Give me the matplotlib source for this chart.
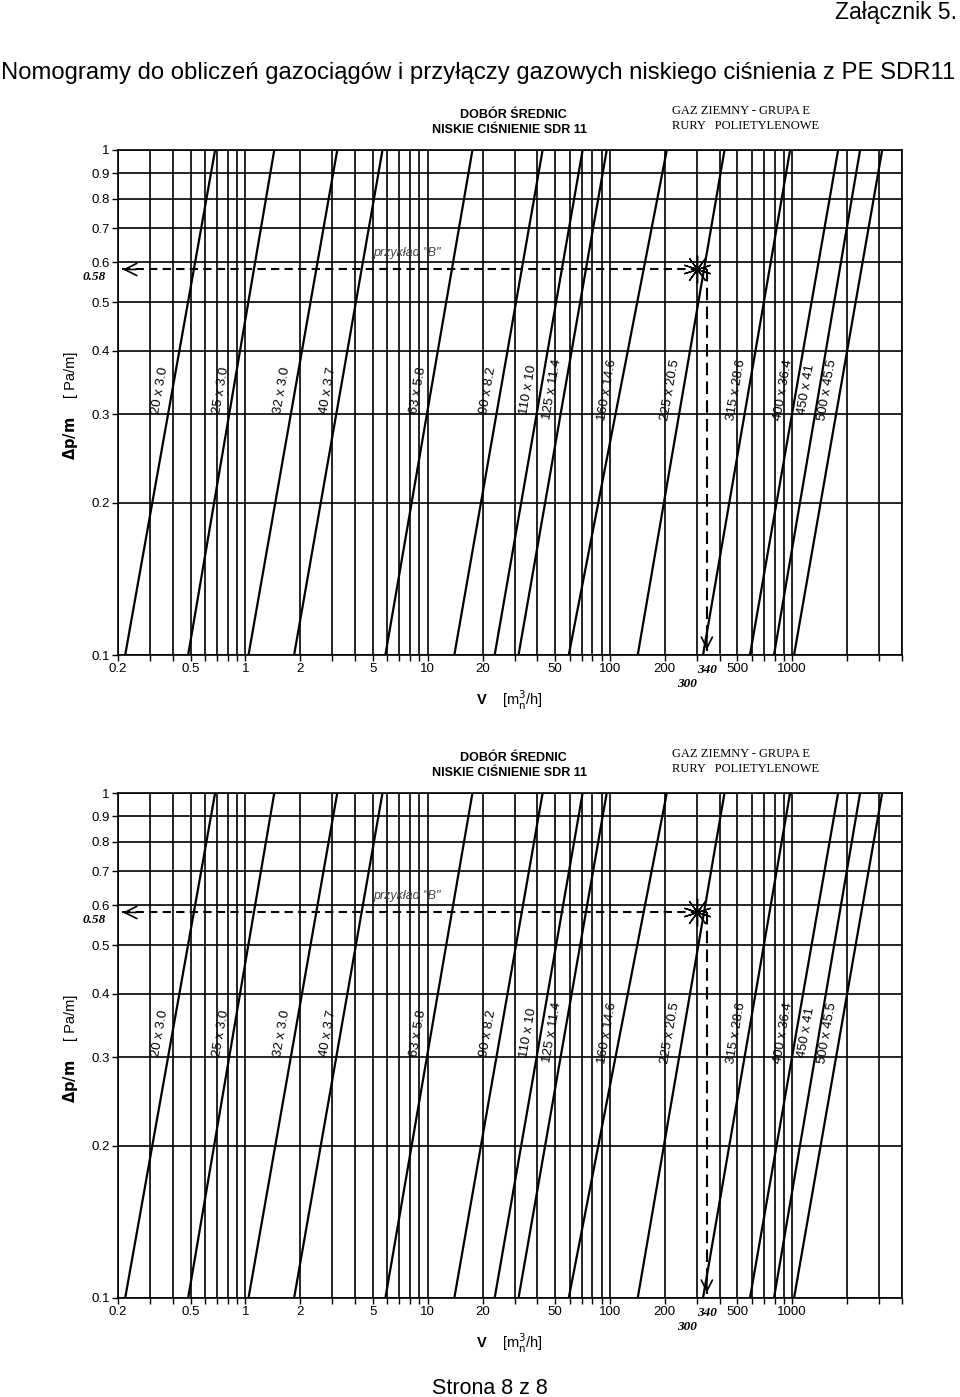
import numpy as np
import matplotlib.pyplot as plt
from matplotlib.ticker import NullLocator

plt.rcParams['font.family'] = ['Liberation Sans', 'DejaVu Sans']

# przewody PE SDR11 - odczyt z nomogramu
pipe_labels = ["20 x 3.0", "25 x 3.0", "32 x 3.0", "40 x 3.7", "63 x 5.8",
               "90 x 8.2", "110 x 10", "125 x 11.4", "160 x 14.6",
               "225 x 20.5", "315 x 28.6", "400 x 36.4", "450 x 41",
               "500 x 45.5"]
# przeplyw [m3n/h] przy dp/m = 0.1 Pa/m oraz 1 Pa/m
flow_at_01 = [0.219, 0.485, 1.04, 1.85, 5.86, 14.0, 23.3, 31.5, 59.4,
              142, 324, 586, 794, 1023]
flow_at_1 = [0.682, 1.44, 3.19, 5.65, 17.6, 42.7, 70.8, 96.0, 205,
             425, 973, 1785, 2356, 3114]

x_ticks = [0.2, 0.5, 1, 2, 5, 10, 20, 50, 100, 200, 500, 1000]
x_tick_labels = ["0.2", "0.5", "1", "2", "5", "10", "20", "50", "100",
                 "200", "500", "1000"]
y_ticks = [0.1, 0.2, 0.3, 0.4, 0.5, 0.6, 0.7, 0.8, 0.9, 1.0]
y_tick_labels = ["0.1", "0.2", "0.3", "0.4", "0.5", "0.6", "0.7", "0.8",
                 "0.9", "1"]

# przyklad "B"
example_dp = 0.58
example_star = 300
example_flow = 340

LABEL_DP = 0.335
W, H = 960, 1397


def fx(px):
    return px / W


def fy(py):
    return 1 - py / H


def draw_nomogram(fig, top):
    # os w pikselach: 118..902 poziomo, top..top+505 pionowo
    ax = fig.add_axes([fx(118), fy(top + 505), 784 / W, 505 / H])
    ax.set_xscale("log")
    ax.set_yscale("log")
    ax.set_xlim(0.2, 4000)
    ax.set_ylim(0.1, 1)

    x_grid = [k * d for d in (0.1, 1, 10, 100, 1000) for k in range(1, 10)
              if 0.2 <= k * d <= 4000]
    for v in x_grid:
        ax.axvline(v, color="black", lw=1.2, zorder=1)
    for p in y_ticks:
        ax.axhline(p, color="black", lw=1.2, zorder=1)

    ax.set_xticks(x_grid)
    ax.set_xticklabels([x_tick_labels[x_ticks.index(v)] if v in x_ticks else ""
                        for v in x_grid])
    ax.set_yticks(y_ticks)
    ax.set_yticklabels(y_tick_labels)
    ax.xaxis.set_minor_locator(NullLocator())
    ax.yaxis.set_minor_locator(NullLocator())
    ax.tick_params(direction="out", length=4, width=1, labelsize=9.5, pad=2,
                   colors="black")
    for s in ax.spines.values():
        s.set_linewidth(1.2)

    # linie przewodow
    for lab, q0, q1 in zip(pipe_labels, flow_at_01, flow_at_1):
        ax.plot([q0, q1], [0.1, 1.0], color="black", lw=1.6, zorder=3)
        ql = q0 * (q1 / q0) ** np.log10(LABEL_DP / 0.1)
        ax.annotate(lab, xy=(ql, LABEL_DP), xytext=(-9, 0),
                    textcoords="offset points", rotation=80, ha="center",
                    va="center", fontsize=9.5, zorder=4)

    # przyklad "B"
    ax.plot([0.21, example_flow], [example_dp, example_dp], color="black",
            lw=1.5, ls=(0, (4, 2.5)), zorder=5)
    ax.plot([example_flow, example_flow], [example_dp, 0.102], color="black",
            lw=1.5, ls=(0, (6, 3)), zorder=5)
    ax.annotate("", xy=(0.205, example_dp), xytext=(0.26, example_dp),
                arrowprops=dict(arrowstyle="->", lw=1.2, mutation_scale=22,
                                color="black"), zorder=6)
    ax.annotate("", xy=(example_flow, 0.101), xytext=(example_flow, 0.115),
                arrowprops=dict(arrowstyle="->", lw=1.2, mutation_scale=20,
                                color="black"), zorder=6)
    ax.plot([example_star], [example_dp], marker=(10, 2, 0), ms=20,
            color="black", mew=1.0, zorder=6)
    ax.text(5.0, 0.625, 'przykład "B"', fontsize=9, style="italic",
            color="#444444", ha="left", va="center", zorder=4)

    ax.annotate("0.58", xy=(0.2, example_dp), xytext=(-9, -5.5),
                textcoords="offset points", ha="right", va="center",
                fontsize=9.5, fontweight="bold", style="italic",
                family="Liberation Serif", annotation_clip=False)
    ax.annotate("340", xy=(example_flow, 0.1), xytext=(0, -11),
                textcoords="offset points", ha="center", va="center",
                fontsize=9.5, fontweight="bold", style="italic",
                family="Liberation Serif", annotation_clip=False)
    ax.annotate("300", xy=(example_star, 0.1), xytext=(-7, -21),
                textcoords="offset points", ha="center", va="center",
                fontsize=9.5, fontweight="bold", style="italic",
                family="Liberation Serif", annotation_clip=False)

    # opisy osi
    fig.text(fx(71), fy(top + 288), r"$\mathbf{\Delta p/m}$", rotation=90,
             ha="center", va="center", fontsize=10.5)
    fig.text(fx(71), fy(top + 225), "[ Pa/m]", rotation=90,
             ha="center", va="center", fontsize=10.5)
    fig.text(fx(482), fy(top + 550), "V", ha="center", va="center",
             fontsize=10.5, fontweight="bold")
    fig.text(fx(502), fy(top + 550), r"[m$^{3}_{\mathrm{n}}$/h]", ha="left",
             va="center", fontsize=10.5)

    # naglowek nomogramu
    fig.text(fx(513), fy(top - 35), "DOBÓR ŚREDNIC", ha="center",
             va="center", fontsize=9, fontweight="bold")
    fig.text(fx(510), fy(top - 20), "NISKIE CIŚNIENIE SDR 11", ha="center",
             va="center", fontsize=9, fontweight="bold")
    fig.text(fx(672), fy(top - 39), "GAZ ZIEMNY - GRUPA E", ha="left",
             va="center", fontsize=9, family="Liberation Serif")
    fig.text(fx(672), fy(top - 24), "RURY   POLIETYLENOWE", ha="left",
             va="center", fontsize=9, family="Liberation Serif")
    return ax


fig = plt.figure(figsize=(W / 100, H / 100), dpi=100)

fig.text(fx(957), fy(12), "Załącznik 5.", ha="right", va="center",
         fontsize=16.5)
fig.text(fx(478), fy(73),
         "Nomogramy do obliczeń gazociągów i przyłączy gazowych niskiego "
         "ciśnienia z PE SDR11", ha="center", va="center", fontsize=17.2)

draw_nomogram(fig, 150)
draw_nomogram(fig, 793)

fig.text(fx(490), fy(1388), "Strona 8 z 8", ha="center", va="center",
         fontsize=15.5)

fig.savefig("out.png", dpi=100)
